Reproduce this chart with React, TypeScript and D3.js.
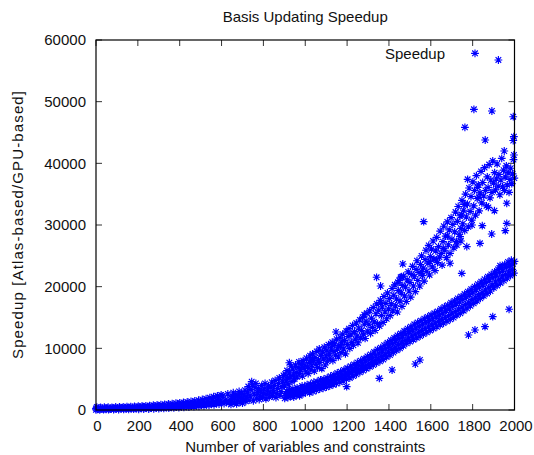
import React from 'react'
import * as d3 from 'd3'

const lowBand: [number, number][] = [
  [0,40],[0,260],[4,480],[8,90],[12,220],[18,30],[22,420],[24,150],[30,260],[36,70],[40,450],[42,200],
  [48,110],[54,280],[58,470],[60,50],[66,190],[72,130],[76,430],[78,300],[84,80],[90,230],[94,490],
  [96,160],[102,320],[108,60],[112,500],[114,250],[120,180],[126,340],[130,520],[132,100],[138,270],
  [144,200],[148,540],[150,360],[156,90],[162,290],[166,560],[168,220],[174,390],[180,130],[184,580],
  [186,310],[192,240],[198,420],[202,620],[204,120],[210,340],[216,260],[220,650],[222,450],[228,160],
  [234,360],[238,680],[240,290],[246,480],[252,150],[256,720],[258,390],[264,310],[270,520],[274,770],
  [276,190],[282,420],[288,340],[292,820],[294,570],[300,230],[306,450],[310,870],[312,370],[318,610],
  [324,260],[328,920],[330,490],[336,400],[342,660],[346,980],[348,300],[354,530],[360,440],[364,1040],
  [366,720],[372,340],[378,580],[382,1100],[384,480],[390,790],[396,380],[400,1170],[402,640],[408,530],
  [414,870],[418,1240],[420,430],[426,700],[432,580],[436,1320],[438,950],[444,480],[450,770],[454,1400],
  [456,640],[462,1050],[468,540],[472,1480],[474,850],[480,710],[486,1160],[490,1580],[492,600],[498,940],
  [504,790],[508,1700],[510,1300],[516,680],[522,1050],[526,1850],[528,880],[534,1450],[540,760],[544,2000],
  [546,1170],[552,980],[558,1620],[562,2150],[564,850],[570,1300],[576,1100],[580,2300],[582,1800],
  [588,950],[594,1450],[598,2450],[600,1230],[606,2300],[612,1050],[618,1600],[624,1380],[630,2600],
  [636,1150],[642,1750],
]

const midBand: [number, number][] = [
  [645,900],[648,1500],[652,2200],[656,2800],[660,1200],[664,1900],[668,2500],[672,1000],[676,1600],
  [680,2300],[684,3000],[688,1300],[692,2000],[696,2700],[700,1100],[704,1700],[708,2400],[712,3200],
  [716,1400],[720,2100],[724,2900],[728,3800],[732,1600],[736,2300],[740,3300],[744,4600],[748,4100],
  [752,1500],[756,2600],[760,3600],[764,4300],[768,1900],[772,2800],[776,3500],[780,1700],[784,2400],
  [788,3100],[792,4000],[796,2000],[800,2700],[804,3400],[808,4300],[812,1800],[816,2500],[820,3200],
  [824,3900],[828,2100],[832,2900],[836,3700],[840,4500],[844,2300],[848,3100],[852,4000],[856,4800],
  [860,2000],[864,2700],[868,3500],[872,4300],[876,5200],[880,2400],[884,3000],[888,3800],[892,4700],
  [896,5600],
]

const upperBand: [number, number][] = [
  [901,3900],[904,5800],[908,4700],[913,6400],[915,5200],[919,4200],[924,6000],[928,5400],[933,7100],
  [937,4600],[941,6600],[944,5700],[949,5000],[953,7300],[957,6100],[961,5400],[966,6900],[970,7800],
  [973,5900],[978,6500],[982,7400],[986,5500],[990,8000],[994,6800],[998,7300],[1003,6200],[1006,8400],
  [1011,7000],[1014,5900],[1019,7700],[1023,8800],[1027,6600],[1031,7300],[1035,9100],[1039,8000],
  [1043,6300],[1047,8500],[1051,7400],[1055,9500],[1058,6900],[1063,8100],[1067,9900],[1071,7700],
  [1074,8900],[1079,6700],[1083,9400],[1086,8300],[1091,10200],[1095,7300],[1099,8800],[1103,9700],
  [1106,7900],[1111,10600],[1115,9100],[1119,8400],[1124,9900],[1129,11000],[1132,8000],[1137,9500],
  [1141,10700],[1145,8900],[1150,11500],[1153,9900],[1158,8600],[1162,10400],[1167,11800],[1171,9300],
  [1175,10900],[1179,12300],[1184,9900],[1188,11300],[1192,9100],[1196,12800],[1201,10600],[1205,11900],
  [1209,13200],[1213,10000],[1218,12300],[1222,11000],[1226,13700],[1230,10500],[1235,12700],[1239,11500],
  [1244,14100],[1248,12000],[1252,10900],[1256,13300],[1261,14600],[1265,11700],[1269,12900],[1274,15000],
  [1278,12300],[1282,13900],[1286,11600],[1291,14400],[1295,15700],[1299,12800],[1304,13900],[1308,16100],
  [1312,12400],[1316,14900],[1321,13400],[1325,16600],[1329,14300],[1334,12900],[1338,15600],[1342,17200],
  [1346,14000],[1351,16200],[1355,13600],[1359,17800],[1364,15300],[1368,16700],[1372,14200],[1376,18400],
  [1381,15900],[1385,17300],[1389,14800],[1393,19000],[1398,16400],[1402,18100],[1406,15300],[1411,17200],
  [1415,19700],[1419,16100],[1423,18600],[1428,20300],[1432,16900],[1436,18000],[1440,15900],[1445,19400],
  [1449,21000],[1453,17700],[1458,19000],[1462,16800],[1466,20200],[1470,21700],[1475,18500],[1479,19900],
  [1483,17600],[1487,21100],[1492,22400],[1496,19300],[1500,20700],[1504,18300],[1509,22000],[1513,23300],
  [1517,20100],[1521,21600],[1526,19200],[1530,22800],[1534,24200],[1538,21000],[1543,22300],[1547,20100],
  [1551,23600],[1556,25000],[1560,21800],[1564,23000],[1568,20900],[1573,24400],[1577,25900],[1581,22500],
  [1586,23800],[1590,26700],[1594,21900],[1598,24900],[1603,26100],[1607,23200],[1611,27400],[1615,24500],
  [1620,22600],[1624,25800],[1628,28000],[1632,23900],[1637,26500],[1641,24800],[1645,29000],[1650,25400],
  [1654,23500],[1658,27300],[1662,29800],[1667,25900],[1671,28200],[1675,24700],[1679,30500],[1684,26800],
  [1688,29200],[1692,25400],[1697,31200],[1701,27700],[1705,30100],[1710,26300],[1714,28900],[1718,32100],
  [1723,27300],[1727,30600],[1731,33000],[1736,28500],[1740,31500],[1744,27400],[1749,34000],[1753,30200],
  [1757,32400],[1762,29100],[1766,35000],[1770,31300],[1775,33400],[1779,29700],[1783,36000],[1788,32200],
  [1792,34600],[1796,30800],[1801,37000],[1805,33100],[1809,35600],[1814,31600],[1818,38000],[1822,34300],
  [1827,36500],[1831,32300],[1835,35200],[1840,38700],[1844,33600],[1848,36900],[1853,34700],[1857,39300],
  [1861,35600],[1866,33100],[1870,37800],[1874,36100],[1879,39800],[1883,34400],[1887,37300],[1892,35300],
  [1896,40400],[1900,36800],[1905,38500],[1909,35700],[1913,37500],[1917,39900],[1922,36300],[1926,38200],
  [1930,34900],[1935,37300],[1939,40800],[1943,36200],[1948,38900],[1952,35600],[1956,37800],[1961,39600],
  [1965,36500],[1969,38500],[1974,35300],[1978,37400],[1982,39200],[1987,36700],[1991,38300],[1995,40600],
  [1999,37600],
]

const lowerBand: [number, number][] = [
  [902,1900],[905,2700],[909,2300],[913,3000],[917,2000],[921,2600],[925,3300],[929,2200],[933,2900],
  [937,2500],[941,3400],[945,2100],[949,2800],[953,3200],[957,2400],[961,3600],[965,2700],[969,3000],
  [973,2300],[977,3500],[981,2800],[985,3900],[989,2600],[993,3200],[997,3700],[1001,2900],[1005,3400],
  [1009,4100],[1013,3100],[1017,3600],[1021,2800],[1025,4200],[1029,3300],[1033,3800],[1037,3000],
  [1041,4500],[1045,3500],[1049,4000],[1053,3200],[1057,4600],[1061,3700],[1065,4200],[1069,3400],
  [1073,4900],[1077,3900],[1081,4400],[1085,3500],[1089,5000],[1093,4100],[1097,4600],[1101,3700],
  [1105,5200],[1109,4300],[1113,4800],[1117,3900],[1121,5500],[1125,4500],[1129,5000],[1133,4100],
  [1137,5700],[1141,4700],[1145,5300],[1149,4300],[1153,6000],[1157,5000],[1161,5500],[1165,4500],
  [1169,6200],[1173,5200],[1177,5800],[1181,4700],[1185,6500],[1189,5400],[1193,6000],[1197,5000],
  [1201,6800],[1205,5700],[1209,6300],[1213,5200],[1217,7100],[1221,6000],[1225,6600],[1229,5500],
  [1233,7400],[1237,6300],[1241,6900],[1245,5800],[1249,7700],[1253,6500],[1257,7200],[1261,6100],
  [1265,8000],[1269,6800],[1273,7500],[1277,6400],[1281,8300],[1285,7100],[1289,7900],[1293,6700],
  [1297,8700],[1301,7400],[1305,8200],[1309,7000],[1313,9000],[1317,7700],[1321,8500],[1325,7300],
  [1329,9400],[1333,8000],[1337,8800],[1341,7600],[1345,9800],[1349,8400],[1353,9200],[1357,7900],
  [1361,10100],[1365,8700],[1369,9600],[1373,8200],[1377,10500],[1381,9100],[1385,10000],[1389,8600],
  [1393,10900],[1397,9400],[1401,10400],[1405,8900],[1409,11300],[1413,9800],[1417,10800],[1421,9300],
  [1425,11700],[1429,10200],[1433,11200],[1437,9700],[1441,12100],[1445,10600],[1449,11600],[1453,10000],
  [1457,12400],[1461,11000],[1465,12000],[1469,10400],[1473,12800],[1477,11300],[1481,12300],[1485,10800],
  [1489,13200],[1493,11700],[1497,12700],[1501,11100],[1505,13500],[1509,12000],[1513,13000],[1517,11400],
  [1521,13900],[1525,12300],[1529,13300],[1533,11700],[1537,14200],[1541,12600],[1545,13600],[1549,12000],
  [1553,14500],[1557,12900],[1561,13900],[1565,12300],[1569,14800],[1573,13200],[1577,14200],[1581,12600],
  [1585,15100],[1589,13500],[1593,14500],[1597,12900],[1601,15400],[1605,13800],[1609,14800],[1613,13200],
  [1617,15700],[1621,14100],[1625,15100],[1629,13500],[1633,16000],[1637,14400],[1641,15400],[1645,13800],
  [1649,16400],[1653,14700],[1657,15700],[1661,14100],[1665,16700],[1669,15000],[1673,16100],[1677,14400],
  [1681,17000],[1685,15300],[1689,16400],[1693,14700],[1697,17400],[1701,15700],[1705,16800],[1709,15000],
  [1713,17700],[1717,16000],[1721,17200],[1725,15400],[1729,18100],[1733,16400],[1737,17500],[1741,15700],
  [1745,18400],[1749,16700],[1753,17900],[1757,16100],[1761,18800],[1765,17100],[1769,18300],[1773,16500],
  [1777,19200],[1781,17500],[1785,18700],[1789,16900],[1793,19600],[1797,17900],[1801,19100],[1805,17300],
  [1809,20000],[1813,18300],[1817,19500],[1821,17700],[1825,20400],[1829,18700],[1833,19900],[1837,18100],
  [1841,20800],[1845,19100],[1849,20300],[1853,18500],[1857,21200],[1861,19500],[1865,20700],[1869,18900],
  [1873,21600],[1877,19900],[1881,21100],[1885,19300],[1889,22000],[1893,20300],[1897,21500],[1901,19800],
  [1905,22400],[1909,20800],[1913,21900],[1917,20200],[1921,22800],[1925,21200],[1929,22300],[1933,20600],
  [1937,23200],[1941,21600],[1945,22700],[1949,21000],[1953,23600],[1957,22000],[1961,23100],[1965,21400],
  [1969,24000],[1973,22400],[1977,23500],[1981,21800],[1985,24300],[1989,22800],[1993,23700],[1997,22200],
  [2000,24100],
]

const scattered: [number, number][] = [
  [1923,56760],[1806,48760],[1892,48490],[1763,45840],[1860,43780],[1994,47560],[1997,44320],[1994,43700],
  [1997,41350],[1951,42000],[1776,37410],[1824,36110],[1760,33350],[1830,34490],[1875,32860],[1904,32320],
  [1963,33520],[1566,30540],[1679,28220],[1748,31620],[1797,30000],[1846,29890],[1891,28540],[1963,30270],
  [1956,29080],[1835,27030],[1724,26760],[1772,26490],[1660,26220],[1740,28110],[1744,29460],[1931,23400],
  [1979,23510],[1466,23680],[1461,21620],[1557,22430],[1628,24320],[1692,23790],[1748,22160],[1596,24050],
  [1979,21890],[1341,21520],[1360,20110],[1456,21520],[1443,20710],[1360,17400],[1282,15450],[1147,12650],
  [924,7670],[1027,8110],[1128,10540],[1169,10380],[1354,5140],[1415,6490],[1526,7460],[1548,8110],
  [1198,3780],[1974,16330],[1896,15130],[1859,13510],[1811,12970],[1780,12160],
]

const xTickValues = [0, 200, 400, 600, 800, 1000, 1200, 1400, 1600, 1800, 2000]
const yTickValues = [0, 10000, 20000, 30000, 40000, 50000, 60000]

const width = 534
const height = 455
const plot = { left: 96, right: 514.5, top: 40, bottom: 410 }
const font = '"Liberation Sans", Arial, sans-serif'
const tickLen = 6

// gnuplot point type 3: plus and cross together
const star = 'M-3.9,0H3.9M0,-3.9V3.9M-2.8,-2.8L2.8,2.8M-2.8,2.8L2.8,-2.8'

export default function App() {
  const x = d3.scaleLinear().domain([0, 2000]).range([plot.left, plot.right])
  const y = d3.scaleLinear().domain([0, 60000]).range([plot.bottom, plot.top])

  const points = [...lowBand, ...midBand, ...upperBand, ...lowerBand, ...scattered]

  return (
    <svg
      width={width}
      height={height}
      style={{ position: 'absolute', left: 0, top: 0, background: '#fff' }}
      fontFamily={font}
      fontSize={15}
    >
      <rect width={width} height={height} fill="#fff" />

      <text x={(plot.left + plot.right) / 2} y={22} textAnchor="middle" fill="#111">
        Basis Updating Speedup
      </text>

      {/* ticks, mirrored on all four sides */}
      <g stroke="#333" strokeWidth={1}>
        {xTickValues.map(t => (
          <g key={'xt' + t}>
            <line x1={x(t)} x2={x(t)} y1={plot.bottom} y2={plot.bottom - tickLen} />
            <line x1={x(t)} x2={x(t)} y1={plot.top} y2={plot.top + tickLen} />
          </g>
        ))}
        {yTickValues.map(t => (
          <g key={'yt' + t}>
            <line x1={plot.left} x2={plot.left + tickLen} y1={y(t)} y2={y(t)} />
            <line x1={plot.right} x2={plot.right - tickLen} y1={y(t)} y2={y(t)} />
          </g>
        ))}
      </g>

      <g fill="#111">
        {xTickValues.map(t => (
          <text key={'xl' + t} x={x(t) + 1.5} y={431} textAnchor="middle">
            {t}
          </text>
        ))}
        {yTickValues.map(t => (
          <text key={'yl' + t} x={86} y={y(t) + 5.3} textAnchor="end">
            {t}
          </text>
        ))}
      </g>

      <g fill="none" stroke="#0000ff" strokeWidth={1.15}>
        {points.map((d, i) => (
          <path key={i} d={star} transform={`translate(${x(d[0])},${y(d[1])})`} />
        ))}
      </g>

      <rect
        x={plot.left}
        y={plot.top}
        width={plot.right - plot.left}
        height={plot.bottom - plot.top}
        fill="none"
        stroke="#000"
        strokeWidth={1.2}
      />

      {/* key */}
      <text x={445} y={58.5} textAnchor="end" fill="#111">
        Speedup
      </text>
      <path d={star} transform="translate(475,53.3)" fill="none" stroke="#0000ff" strokeWidth={1.15} />

      <text x={(plot.left + plot.right) / 2} y={452} textAnchor="middle" fill="#111">
        Number of variables and constraints
      </text>
      <text
        transform={`translate(23,${(plot.top + plot.bottom) / 2}) rotate(-90)`}
        textAnchor="middle"
        fill="#111"
        textLength={268}
        lengthAdjust="spacing"
      >
        Speedup [Atlas-based/GPU-based]
      </text>
    </svg>
  )
}
